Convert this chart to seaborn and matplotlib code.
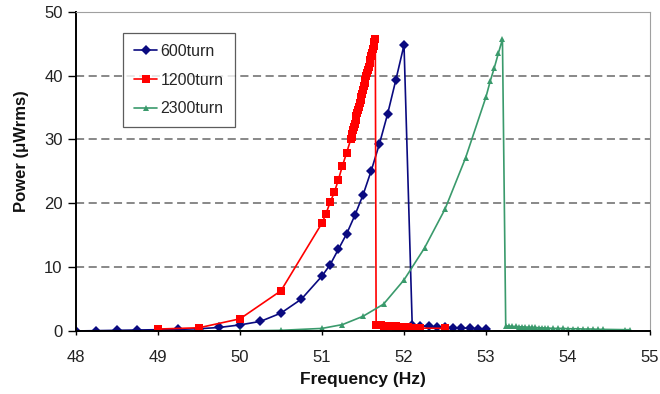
import seaborn as sns
import matplotlib.pyplot as plt
import numpy as np

# 600 turn coil
freq_600 = [48.0, 48.25, 48.5, 48.75, 49.0, 49.25, 49.5, 49.75, 50.0, 50.25, 50.5, 50.75,
            51.0, 51.1, 51.2, 51.3, 51.4, 51.5, 51.6, 51.7, 51.8, 51.9, 52.0,
            52.1, 52.2, 52.3, 52.4, 52.5, 52.6, 52.7, 52.8, 52.9, 53.0]
power_600 = [0.0, 0.05, 0.1, 0.15, 0.2, 0.25, 0.35, 0.55, 0.95, 1.5, 2.8, 5.0,
             8.6, 10.4, 12.8, 15.2, 18.1, 21.3, 25.1, 29.3, 34.0, 39.3, 44.8,
             0.9, 0.8, 0.7, 0.6, 0.55, 0.5, 0.45, 0.4, 0.35, 0.3]

# 1200 turn coil
freq_1200 = [49.0, 49.5, 50.0, 50.5, 51.0, 51.05, 51.1, 51.15, 51.2, 51.25, 51.3, 51.35,
             51.36, 51.37, 51.38, 51.39, 51.4, 51.41, 51.42, 51.43, 51.44, 51.45,
             51.46, 51.47, 51.48, 51.49, 51.5, 51.51, 51.52, 51.53, 51.54, 51.55,
             51.56, 51.57, 51.58, 51.59, 51.6, 51.61, 51.62, 51.63, 51.64, 51.65,
             51.66, 51.69, 51.72, 51.75, 51.78, 51.81, 51.84, 51.87, 51.9, 51.93,
             51.96, 51.99, 52.02, 52.05, 52.08, 52.11, 52.14, 52.17, 52.2, 52.5]
power_1200 = [0.3, 0.5, 1.9, 6.3, 16.9, 18.4, 20.2, 21.7, 23.7, 25.9, 27.9, 30.0,
              30.4, 30.9, 31.5, 32.0, 32.5, 33.0, 33.6, 34.1, 34.6, 35.1,
              35.7, 36.2, 36.7, 37.2, 37.8, 38.3, 38.8, 39.3, 39.9, 40.4,
              40.9, 41.4, 42.0, 42.5, 43.0, 43.5, 44.1, 44.6, 45.2, 45.7,
              1.0, 0.95, 0.9, 0.85, 0.8, 0.8, 0.75, 0.7, 0.7, 0.65,
              0.6, 0.6, 0.55, 0.55, 0.5, 0.5, 0.45, 0.45, 0.45, 0.4]

# 2300 turn coil
freq_2300 = [50.0, 50.5, 51.0, 51.25, 51.5, 51.75, 52.0, 52.25, 52.5, 52.75,
             53.0, 53.05, 53.1, 53.15, 53.2,
             53.24, 53.28, 53.32, 53.36, 53.4, 53.44, 53.48, 53.52, 53.56, 53.6,
             53.64, 53.68, 53.72, 53.76, 53.82, 53.88, 53.94, 54.0, 54.06, 54.12,
             54.18, 54.24, 54.3, 54.36, 54.42, 54.7, 54.75]
power_2300 = [0.0, 0.1, 0.4, 1.0, 2.3, 4.2, 8.0, 13.0, 19.1, 27.1,
              36.7, 39.1, 41.2, 43.5, 45.7,
              0.8, 0.75, 0.7, 0.7, 0.65, 0.65, 0.6, 0.6, 0.55, 0.55,
              0.5, 0.5, 0.45, 0.45, 0.4, 0.4, 0.4, 0.35, 0.35, 0.35,
              0.3, 0.3, 0.3, 0.25, 0.25, 0.2, 0.2]

sns.set_style("white")
plt.rcParams['font.family'] = ['Liberation Sans', 'DejaVu Sans']

fig = plt.figure(figsize=(6.6, 3.94), dpi=100)
ax = fig.add_axes([0.115, 0.16, 0.87, 0.81])

sns.lineplot(x=freq_600, y=power_600, ax=ax, color='#0a0a80', marker='D', markersize=5,
             markeredgewidth=0, linewidth=1.2, sort=False, estimator=None, label='600turn')
sns.lineplot(x=freq_1200, y=power_1200, ax=ax, color='#ff0000', marker='s', markersize=6,
             markeredgewidth=0, linewidth=1.2, sort=False, estimator=None, label='1200turn')
sns.lineplot(x=freq_2300, y=power_2300, ax=ax, color='#3a9a6c', marker='^', markersize=4.5,
             markeredgewidth=0, linewidth=1.2, sort=False, estimator=None, label='2300turn')

ax.set_xlim(48, 55)
ax.set_ylim(0, 50)
ax.set_xticks(np.arange(48, 56, 1))
ax.set_yticks(np.arange(0, 60, 10))
ax.yaxis.grid(True, linestyle=(0, (4.5, 2.5)), color='#7f7f7f', linewidth=1.3)
ax.xaxis.grid(False)

for side in ['top', 'right']:
    ax.spines[side].set_color('#a0a0a0')
    ax.spines[side].set_linewidth(0.8)
for side in ['left', 'bottom']:
    ax.spines[side].set_color('black')
    ax.spines[side].set_linewidth(1.4)

ax.tick_params(axis='x', direction='out', length=3, width=1, color='black',
               labelsize=12, pad=11, bottom=True, labelcolor='#222222')
ax.tick_params(axis='y', direction='out', length=5.5, width=1, color='black',
               labelsize=12, pad=4, left=True, labelcolor='#222222')
ax.set_xlabel('Frequency (Hz)', fontsize=12.5, fontweight='bold', labelpad=5, color='#111111')
ax.set_ylabel('Power (\u03bcWrms)', fontsize=12, fontweight='bold', color='#111111')
ax.yaxis.set_label_coords(-0.082, 0.564)

leg = ax.legend(loc='upper left', bbox_to_anchor=(0.082, 0.934), borderaxespad=0,
                fontsize=11.5, frameon=True, fancybox=False, edgecolor='#333333',
                handlelength=1.45, borderpad=0.7, labelspacing=0.85, handletextpad=0.2)
leg.get_frame().set_linewidth(0.9)

fig.savefig('out.png', dpi=100)
